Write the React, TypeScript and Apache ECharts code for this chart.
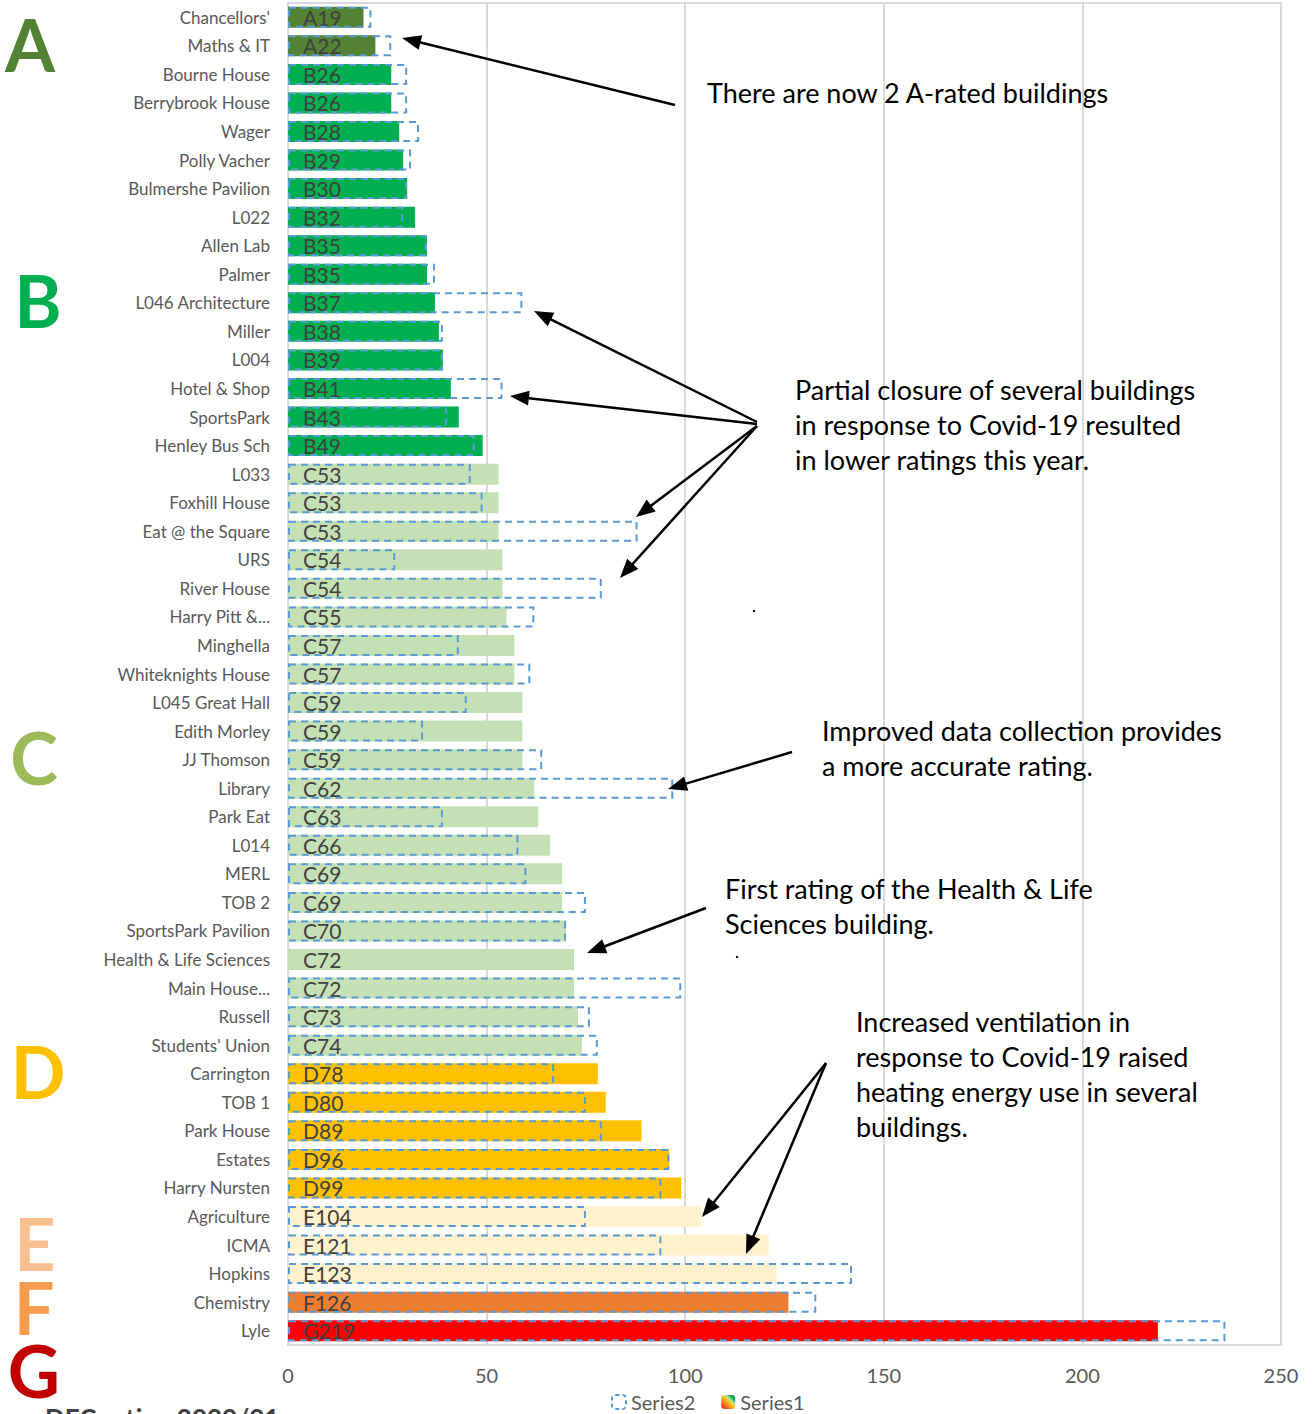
import React, { useEffect, useRef } from "react";
import * as echarts from "echarts";

const categories = [
  "Chancellors'", "Maths & IT", "Bourne House", "Berrybrook House", "Wager", "Polly Vacher",
  "Bulmershe Pavilion", "L022", "Allen Lab", "Palmer", "L046 Architecture", "Miller", "L004",
  "Hotel & Shop", "SportsPark", "Henley Bus Sch", "L033", "Foxhill House", "Eat @ the Square",
  "URS", "River House", "Harry Pitt &...", "Minghella", "Whiteknights House", "L045 Great Hall",
  "Edith Morley", "JJ Thomson", "Library", "Park Eat", "L014", "MERL", "TOB 2",
  "SportsPark Pavilion", "Health & Life Sciences", "Main House...", "Russell", "Students' Union",
  "Carrington", "TOB 1", "Park House", "Estates", "Harry Nursten", "Agriculture", "ICMA",
  "Hopkins", "Chemistry", "Lyle",
];

const grades = [
  "A", "A", "B", "B", "B", "B", "B", "B", "B", "B", "B", "B", "B", "B", "B", "B",
  "C", "C", "C", "C", "C", "C", "C", "C", "C", "C", "C", "C", "C", "C", "C", "C", "C", "C", "C", "C", "C",
  "D", "D", "D", "D", "D", "E", "E", "E", "F", "G",
];

const series1 = [
  19, 22, 26, 26, 28, 29, 30, 32, 35, 35, 37, 38, 39, 41, 43, 49, 53, 53, 53, 54, 54, 55, 57, 57,
  59, 59, 59, 62, 63, 66, 69, 69, 70, 72, 72, 73, 74, 78, 80, 89, 96, 99, 104, 121, 123, 126, 219,
];

const series2 = [
  21, 26, 30, 30, 33, 31, 30, 29, 35, 37, 59, 39, 39, 54, 40, 47, 46, 49, 88, 27, 79, 62, 43, 61,
  45, 34, 64, 97, 39, 58, 60, 75, 70, null, 99, 76, 78, 67, 75, 79, 96, 94, 75, 94, 142, 133, 236,
];

const xTicks = [0, 50, 100, 150, 200, 250];

const gradeColors: Record<string, string> = {
  A: "#548235",
  B: "#00B050",
  C: "#C5E0B4",
  D: "#FFC000",
  E: "#FFF2CC",
  F: "#ED7D31",
  G: "#FF0000",
};

const bigLetters = [
  { t: "A", x: 30, y: 44, c: "#548235" },
  { t: "B", x: 38, y: 300, c: "#00B050" },
  { t: "C", x: 34, y: 757, c: "#9BBB59" },
  { t: "D", x: 38, y: 1071, c: "#FFC000" },
  { t: "E", x: 35, y: 1243, c: "#F8C08F" },
  { t: "F", x: 34, y: 1307, c: "#F79A4E" },
  { t: "G", x: 34, y: 1370, c: "#C00000" },
];

const notes = [
  { x: 707, y: 79, lines: ["There are now 2 A-rated buildings"] },
  { x: 795, y: 376, lines: ["Partial closure of several buildings", "in response to Covid-19 resulted", "in lower ratings this year."] },
  { x: 822, y: 717, lines: ["Improved data collection provides", "a more accurate rating."] },
  { x: 725, y: 875, lines: ["First rating of the Health & Life", "Sciences building."] },
  { x: 856, y: 1008, lines: ["Increased ventilation in", "response to Covid-19 raised", "heating energy use in several", "buildings."] },
];

const arrows = [
  [675, 105, 402, 38],
  [757, 422, 534, 311],
  [757, 424, 510, 396],
  [757, 426, 636, 517],
  [757, 426, 620, 578],
  [792, 752, 668, 789],
  [706, 908, 587, 953],
  [826, 1063, 702, 1217],
  [826, 1063, 746, 1254],
];

function arrowGraphics(a: number[]) {
  const [x1, y1, x2, y2] = a;
  const dx = x2 - x1, dy = y2 - y1;
  const len = Math.sqrt(dx * dx + dy * dy);
  const ux = dx / len, uy = dy / len;
  const hl = 19, hw = 7.5;
  const bx = x2 - ux * hl, by = y2 - uy * hl;
  const px = -uy, py = ux;
  return [
    { type: "line", z: 100, shape: { x1, y1, x2: bx + ux * 2, y2: by + uy * 2 }, style: { stroke: "#000", lineWidth: 2.5 } },
    {
      type: "polygon", z: 100,
      shape: { points: [[x2, y2], [bx + px * hw, by + py * hw], [bx - px * hw, by - py * hw]] },
      style: { fill: "#000" },
    },
  ];
}

export default function App() {
  const ref = useRef<HTMLDivElement>(null);
  useEffect(() => {
    document.body.style.margin = "0";
    const chart = echarts.init(ref.current!, null, { renderer: "svg" });
    const font = "Lato, 'Open Sans', sans-serif";
    const graphics: any[] = [];
    bigLetters.forEach((l) =>
      graphics.push({
        type: "text", x: l.x, y: l.y, z: 100,
        style: {
          text: l.t, fill: l.c, font: `bold 72px ${font}`, lineHeight: 56,
          textAlign: "center", textVerticalAlign: "middle",
        },
      })
    );
    notes.forEach((n) =>
      n.lines.forEach((ln, i) =>
        graphics.push({
          type: "text", x: n.x, y: n.y + i * 35, z: 100,
          style: { text: ln, fill: "#000", font: `27px ${font}`, textVerticalAlign: "top" },
        })
      )
    );
    arrows.forEach((a) => graphics.push(...arrowGraphics(a)));
    graphics.push({ type: "circle", z: 100, shape: { cx: 754, cy: 611, r: 1.2 }, style: { fill: "#000" } });
    graphics.push({ type: "circle", z: 100, shape: { cx: 737, cy: 957, r: 1.2 }, style: { fill: "#000" } });
    graphics.push({
      type: "text", x: 45, y: 1405, z: 100,
      style: { text: "DEC rating 2020/21", fill: "#404040", font: `bold 26px ${font}`, textVerticalAlign: "top" },
    });

    const legendGradient = new echarts.graphic.LinearGradient(0, 1, 1, 0, [
      { offset: 0, color: "#FF0000" },
      { offset: 0.3, color: "#ED7D31" },
      { offset: 0.5, color: "#FFC000" },
      { offset: 0.65, color: "#C5E0B4" },
      { offset: 0.8, color: "#00B050" },
      { offset: 1, color: "#548235" },
    ]);

    chart.setOption({
      animation: false,
      textStyle: { fontFamily: font },
      grid: {
        left: 288, right: 34, top: 3, bottom: 69,
        show: true, borderColor: "#D9D9D9", borderWidth: 2, containLabel: false,
      },
      legend: {
        left: 611, top: 1392, padding: 0, itemWidth: 14, itemHeight: 14, itemGap: 26,
        textStyle: { fontSize: 20, color: "#595959", fontFamily: font },
        data: [
          { name: "Series2", itemStyle: { color: "rgba(0,0,0,0)", borderColor: "#5B9BD5", borderWidth: 2, borderType: [4, 3] } },
          { name: "Series1", itemStyle: { color: legendGradient, borderWidth: 0 } },
        ],
      },
      xAxis: {
        type: "value", min: 0, max: 250, interval: 50,
        axisLine: { show: false }, axisTick: { show: false },
        axisLabel: { fontSize: 20, color: "#595959", margin: 20, fontFamily: font },
        splitLine: { lineStyle: { color: "#D9D9D9", width: 2 } },
        data: xTicks,
      },
      yAxis: {
        type: "category", inverse: true, data: categories,
        axisTick: { show: false },
        axisLine: { lineStyle: { color: "#D9D9D9", width: 2 } },
        axisLabel: { fontSize: 17, color: "#595959", margin: 18, fontFamily: font },
      },
      series: [
        {
          name: "Series1", type: "bar", barWidth: 21, barGap: "-100%",
          data: series1.map((v, i) => ({ value: v, itemStyle: { color: gradeColors[grades[i]] } })),
          label: {
            show: true, position: "insideLeft", distance: 15, offset: [0, 0],
            fontSize: 21, color: "#404040", fontFamily: font,
            formatter: (p: any) => grades[p.dataIndex] + series1[p.dataIndex],
          },
          z: 2,
        },
        {
          name: "Series2", type: "bar", barWidth: 21, barGap: "-100%",
          data: series2,
          itemStyle: { color: "rgba(0,0,0,0)", borderColor: "#5B9BD5", borderWidth: 2, borderType: [7, 5] },
          z: 3,
        },
      ],
      graphic: graphics,
    });
    return () => chart.dispose();
  }, []);
  return <div ref={ref} style={{ width: 1315, height: 1414 }} />;
}
